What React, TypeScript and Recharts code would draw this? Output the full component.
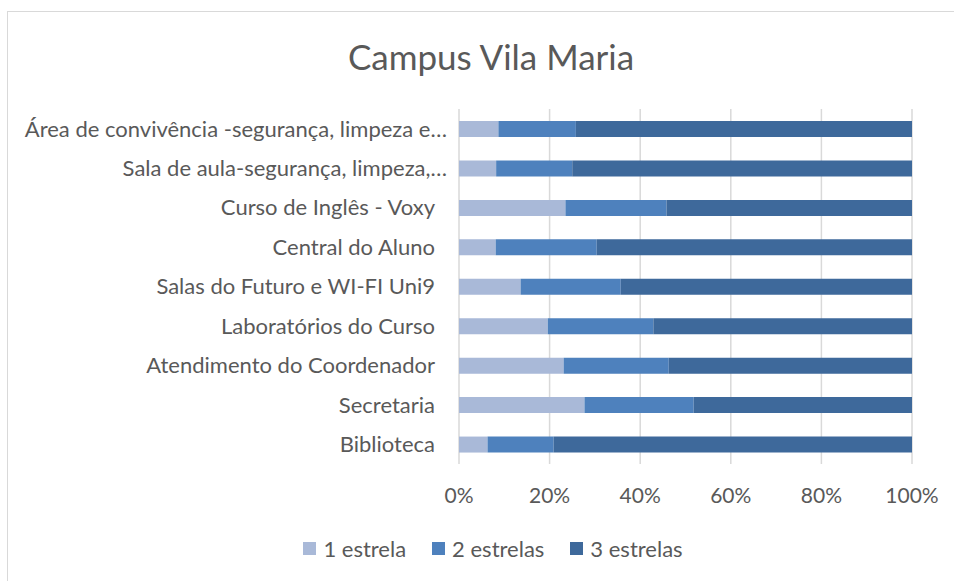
import { BarChart, Bar, XAxis, YAxis, CartesianGrid } from 'recharts';

const categories = [
  'Área de convivência -segurança, limpeza e…',
  'Sala de aula-segurança, limpeza,…',
  'Curso de Inglês - Voxy',
  'Central do Aluno',
  'Salas do Futuro e WI-FI Uni9',
  'Laboratórios do Curso',
  'Atendimento do Coordenador',
  'Secretaria',
  'Biblioteca',
];

// percentage of answers per rating
const umaEstrela = [8.7, 8.2, 23.5, 8.1, 13.6, 19.6, 23.1, 27.7, 6.3];
const duasEstrelas = [17.1, 16.8, 22.3, 22.3, 22.1, 23.3, 23.2, 24.1, 14.6];
const tresEstrelas = [74.2, 75.0, 54.2, 69.6, 64.3, 57.1, 53.7, 48.2, 79.1];

const xTicks = [0, 20, 40, 60, 80, 100];

const SERIES = [
  { key: 'um', label: '1 estrela', color: '#a9b9d8' },
  { key: 'dois', label: '2 estrelas', color: '#4e81bd' },
  { key: 'tres', label: '3 estrelas', color: '#3e699b' },
];

const FONT = 'Lato, "Open Sans", sans-serif';
const TEXT = '#595959';

const data = categories.map((name, i) => ({
  name,
  um: umaEstrela[i],
  dois: duasEstrelas[i],
  tres: tresEstrelas[i],
}));

// Excel leaves a little extra room after truncated labels
function CategoryTick({ x, y, payload }: { x?: number; y?: number; payload?: { value: string } }) {
  const label = payload?.value ?? '';
  const shift = label.endsWith('…') ? 12 : 0;
  return (
    <text
      x={(x ?? 0) + shift}
      y={y}
      dy="0.355em"
      textAnchor="end"
      fontSize={22}
      fill={TEXT}
      fontFamily={FONT}
    >
      {label}
    </text>
  );
}

function ChartLegend() {
  return (
    <div
      style={{
        position: 'absolute', left: 0, top: 534, width: 954, height: 28,
        display: 'flex', justifyContent: 'center', alignItems: 'center',
        fontSize: 22, color: TEXT, fontFamily: FONT, paddingLeft: 58, boxSizing: 'border-box',
      }}
    >
      {SERIES.map((s) => (
        <div key={s.key} style={{ display: 'flex', alignItems: 'center', marginRight: 26 }}>
          <div style={{ width: 13, height: 13, background: s.color, marginRight: 7 }} />
          <span>{s.label}</span>
        </div>
      ))}
    </div>
  );
}

export default function App() {
  return (
    <div style={{ position: 'fixed', left: 0, top: 0, width: 954, height: 581, background: '#fff', fontFamily: FONT }}>
      <div
        style={{
          position: 'absolute', left: 7, top: 11, right: -2, bottom: -2,
          borderTop: '1px solid #d9d9d9', borderLeft: '1px solid #d9d9d9',
        }}
      />
      <div
        style={{
          position: 'absolute', left: 0, top: 36, width: 982, textAlign: 'center',
          fontSize: 35, color: TEXT, lineHeight: '40px',
        }}
      >
        Campus Vila Maria
      </div>
      <div style={{ position: 'absolute', left: 0, top: 0 }}>
        <BarChart
          width={954}
          height={581}
          data={data}
          layout="vertical"
          margin={{ top: 109, right: 42, bottom: 87, left: 0 }}
          barSize={16}
        >
          <CartesianGrid horizontal={false} stroke="#d9d9d9" strokeWidth={1.5} />
          <XAxis
            type="number"
            domain={[0, 100]}
            ticks={xTicks}
            tickFormatter={(v: number) => `${v}%`}
            axisLine={false}
            tickLine={false}
            tickSize={0}
            tickMargin={24}
            tick={{ fontSize: 21, fill: TEXT, fontFamily: FONT }}
            interval={0}
          />
          <YAxis
            type="category"
            dataKey="name"
            width={459}
            axisLine={false}
            tickLine={false}
            tickSize={0}
            tickMargin={24}
            tick={<CategoryTick />}
            interval={0}
          />
          {SERIES.map((s) => (
            <Bar
              key={s.key}
              dataKey={s.key}
              name={s.label}
              stackId="a"
              fill={s.color}
              isAnimationActive={false}
            />
          ))}
        </BarChart>
      </div>
      <ChartLegend />
    </div>
  );
}
